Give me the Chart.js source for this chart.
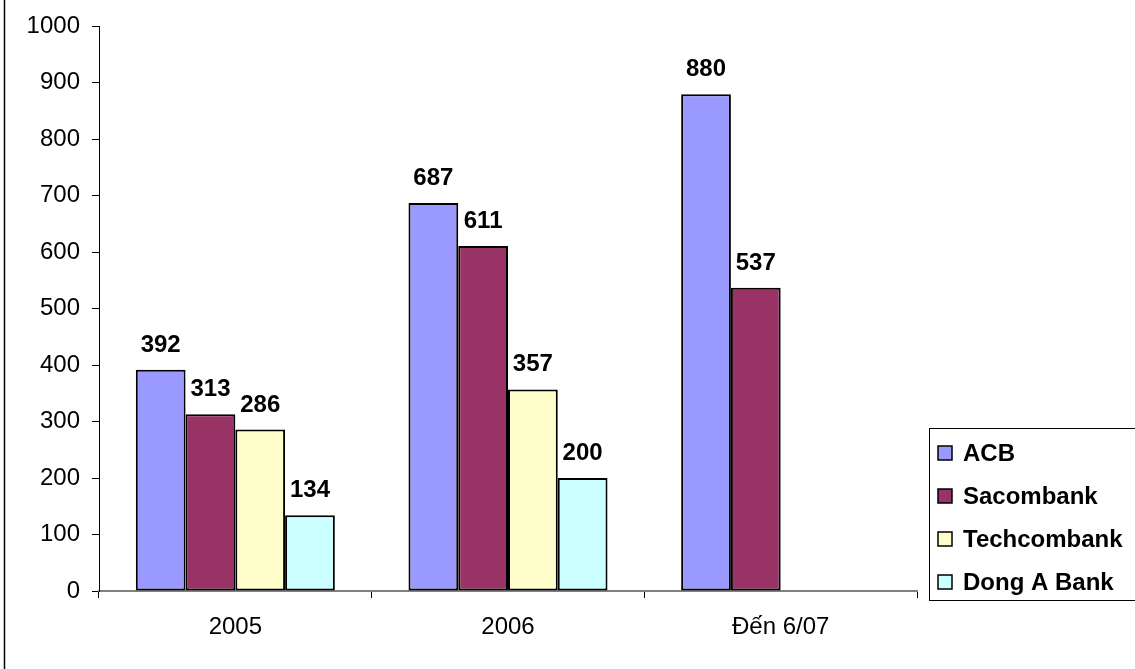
<!DOCTYPE html>
<html>
<head>
<meta charset="utf-8">
<script src="https://cdn.jsdelivr.net/npm/chart.js@4/dist/chart.umd.min.js"></script>
<style>
  html, body { margin: 0; padding: 0; background: #fff; }
  #wrap { width: 1135px; height: 669px; position: relative; }
</style>
</head>
<body>
<div id="wrap"><canvas id="chart-canvas" width="1135" height="669"></canvas></div>
<script>
const categories = ["2005", "2006", "Đến 6/07"];
const acb = [392, 687, 880];
const sacombank = [313, 611, 537];
const techcombank = [286, 357, null];
const dongABank = [134, 200, null];
const yTicks = [0, 100, 200, 300, 400, 500, 600, 700, 800, 900, 1000];

const FONT = "'Liberation Sans', Arial, sans-serif";

// bold value labels above each bar
const valueLabels = {
  id: "valueLabels",
  afterDatasetsDraw(chart) {
    const ctx = chart.ctx;
    ctx.save();
    ctx.font = "bold 24px " + FONT;
    ctx.fillStyle = "#000";
    ctx.textAlign = "center";
    ctx.textBaseline = "alphabetic";
    chart.data.datasets.forEach((ds, i) => {
      chart.getDatasetMeta(i).data.forEach((bar, j) => {
        const v = ds.data[j];
        if (v === null) return;
        ctx.fillText(String(v), bar.x, bar.y - 18);
      });
    });
    ctx.restore();
  }
};

// legend box on the right and the left frame line
const sideLegend = {
  id: "sideLegend",
  afterDraw(chart) {
    const ctx = chart.ctx;
    ctx.save();
    ctx.strokeStyle = "#000";
    ctx.lineWidth = 1.5;
    ctx.beginPath();
    ctx.moveTo(4.5, 0);
    ctx.lineTo(4.5, 669);
    ctx.stroke();

    ctx.lineWidth = 1;
    ctx.strokeRect(929.5, 428.5, 230, 172);

    ctx.font = "bold 24px " + FONT;
    ctx.textBaseline = "middle";
    ctx.textAlign = "left";
    chart.data.datasets.forEach((ds, i) => {
      const cy = 453 + i * 43;
      ctx.fillStyle = ds.backgroundColor;
      ctx.fillRect(938, cy - 7, 14, 14);
      ctx.lineWidth = 1.5;
      ctx.strokeStyle = "#000";
      ctx.strokeRect(938, cy - 7, 14, 14);
      ctx.fillStyle = "#000";
      ctx.fillText(ds.label, 963, cy + 1);
    });
    ctx.restore();
  }
};

function series(label, data, color) {
  return {
    label: label,
    data: data,
    backgroundColor: color,
    borderColor: "#000",
    borderWidth: 2,
    borderSkipped: false,
    categoryPercentage: 0.73,
    barPercentage: 1.0
  };
}

const ctx = document.getElementById("chart-canvas").getContext("2d");
new Chart(ctx, {
  type: "bar",
  data: {
    labels: categories,
    datasets: [
      series("ACB", acb, "#9999FF"),
      series("Sacombank", sacombank, "#993366"),
      series("Techcombank", techcombank, "#FFFFCC"),
      series("Dong A Bank", dongABank, "#CCFFFF")
    ]
  },
  options: {
    responsive: false,
    animation: false,
    layout: { padding: { left: 0, top: 25, right: 218, bottom: 0 } },
    plugins: {
      legend: { display: false },
      tooltip: { enabled: false }
    },
    scales: {
      x: {
        grid: { display: true, drawOnChartArea: false, color: "#000", tickLength: 7, offset: true },
        border: { display: true, color: "#808080", width: 2 },
        ticks: { color: "#000", font: { family: FONT, size: 24 }, padding: 15, maxRotation: 0 },
        afterFit(scale) { scale.height = 78; }
      },
      y: {
        min: 0,
        max: 1000,
        afterBuildTicks(scale) { scale.ticks = yTicks.map(v => ({ value: v })); },
        grid: { display: true, drawOnChartArea: false, color: "#000", tickLength: 7 },
        border: { display: true, color: "#000", width: 1 },
        ticks: { color: "#000", font: { family: FONT, size: 24 }, padding: 12, callback: v => String(v) },
        afterFit(scale) { scale.width = 99; }
      }
    }
  },
  plugins: [valueLabels, sideLegend]
});
</script>
</body>
</html>
